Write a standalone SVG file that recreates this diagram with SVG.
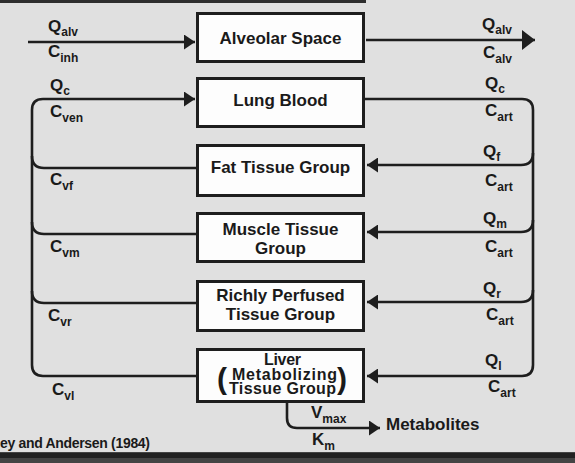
<svg xmlns="http://www.w3.org/2000/svg" width="575" height="463" viewBox="0 0 575 463">
<defs>
<style>
.box{fill:#fdfdfd;stroke:#1e1e1e;stroke-width:3}
.t{font-family:"Liberation Sans",Arial,sans-serif;font-weight:bold;fill:#1a1a1a}
.bt{font-size:17px;text-anchor:middle}
.lb{font-size:17px}
.sub{font-size:12px}
.ln{fill:none;stroke:#1e1e1e;stroke-width:2.6}
</style>
<marker id="ah" markerUnits="userSpaceOnUse" markerWidth="12" markerHeight="15" refX="11" refY="7.5" orient="auto">
<path d="M0,0 L11,7.5 L0,15 z" fill="#1e1e1e"/>
</marker>
<marker id="ahb" markerUnits="userSpaceOnUse" markerWidth="14" markerHeight="20" refX="13" refY="10" orient="auto">
<path d="M0,0 L13,10 L0,20 z" fill="#1e1e1e"/>
</marker>
</defs>
<rect x="0" y="0" width="575" height="463" fill="#e0e0e0"/>
<rect x="0" y="0" width="366" height="3" fill="#2e2e2e"/>
<rect x="0" y="452" width="575" height="11" fill="#444"/>
<rect x="0" y="453" width="575" height="5" fill="#222"/>

<g id="connectors">
<path class="ln" d="M28 42 H195" marker-end="url(#ah)"/>
<path class="ln" d="M366 40 H535" marker-end="url(#ahb)"/>
<path class="ln" d="M197 376 H43 Q32 376 32 365 V110 Q32 99 43 99 H195" marker-end="url(#ah)"/>
<path class="ln" d="M197 168 H44 Q32 168 32 156"/>
<path class="ln" d="M197 234 H44 Q32 234 32 222"/>
<path class="ln" d="M197 303 H44 Q32 303 32 291"/>
<path class="ln" d="M364 99 H522 Q533 99 533 110 V365 Q533 376 522 376 H367" marker-end="url(#ah)"/>
<path class="ln" d="M533 153 Q533 165 521 165 H367" marker-end="url(#ah)"/>
<path class="ln" d="M533 220 Q533 232 521 232 H367" marker-end="url(#ah)"/>
<path class="ln" d="M533 290 Q533 302 521 302 H367" marker-end="url(#ah)"/>
<path class="ln" d="M287 403 V418 Q287 428 297 428 H380" marker-end="url(#ah)"/>
</g>

<g id="alveolar">
<rect class="box" x="197.5" y="13.5" width="166" height="48"/>
<text class="t bt" x="280.5" y="44">Alveolar Space</text>
</g>
<g id="lung">
<rect class="box" x="197.5" y="78.5" width="166" height="48"/>
<text class="t bt" x="280.5" y="106">Lung Blood</text>
</g>
<g id="fat">
<rect class="box" x="197.5" y="145.5" width="166" height="50"/>
<text class="t bt" x="280.5" y="173">Fat Tissue Group</text>
</g>
<g id="muscle">
<rect class="box" x="197.5" y="213.5" width="166" height="48"/>
<text class="t bt" x="280.5" y="235">Muscle Tissue</text>
<text class="t bt" x="280.5" y="254">Group</text>
</g>
<g id="richly">
<rect class="box" x="197.5" y="281.5" width="166" height="49"/>
<text class="t bt" x="280.5" y="301">Richly Perfused</text>
<text class="t bt" x="280.5" y="320">Tissue Group</text>
</g>
<g id="liver">
<rect class="box" x="197.5" y="349.5" width="166" height="52"/>
<text class="t" x="264" y="365" font-size="16" textLength="37">Liver</text>
<text class="t" x="232" y="380" font-size="16" textLength="105">Metabolizing</text>
<text class="t" x="229" y="394" font-size="16" textLength="107">Tissue Group</text>
<text class="t" x="217" y="389" font-size="30">(</text>
<text class="t" x="337" y="389" font-size="30">)</text>
</g>

<g id="labels">
<text class="t lb" x="48" y="32">Q<tspan class="sub" dy="4">alv</tspan></text>
<text class="t lb" x="48" y="57">C<tspan class="sub" dy="5">inh</tspan></text>
<text class="t lb" x="50" y="91">Q<tspan class="sub" dy="4">c</tspan></text>
<text class="t lb" x="50" y="117">C<tspan class="sub" dy="5">ven</tspan></text>
<text class="t lb" x="50" y="185">C<tspan class="sub" dy="5">vf</tspan></text>
<text class="t lb" x="50" y="252">C<tspan class="sub" dy="5">vm</tspan></text>
<text class="t lb" x="48" y="321">C<tspan class="sub" dy="5">vr</tspan></text>
<text class="t lb" x="52" y="395">C<tspan class="sub" dy="5">vl</tspan></text>

<text class="t lb" x="482" y="30">Q<tspan class="sub" dy="4">alv</tspan></text>
<text class="t lb" x="483" y="58">C<tspan class="sub" dy="5">alv</tspan></text>
<text class="t lb" x="485" y="89">Q<tspan class="sub" dy="4">c</tspan></text>
<text class="t lb" x="485" y="116">C<tspan class="sub" dy="5">art</tspan></text>
<text class="t lb" x="483" y="157">Q<tspan class="sub" dy="4">f</tspan></text>
<text class="t lb" x="485" y="186">C<tspan class="sub" dy="5">art</tspan></text>
<text class="t lb" x="483" y="224">Q<tspan class="sub" dy="4">m</tspan></text>
<text class="t lb" x="485" y="252">C<tspan class="sub" dy="5">art</tspan></text>
<text class="t lb" x="483" y="294">Q<tspan class="sub" dy="4">r</tspan></text>
<text class="t lb" x="486" y="320">C<tspan class="sub" dy="5">art</tspan></text>
<text class="t lb" x="485" y="366">Q<tspan class="sub" dy="4">l</tspan></text>
<text class="t lb" x="488" y="392">C<tspan class="sub" dy="5">art</tspan></text>

<text class="t lb" x="311" y="418">V<tspan class="sub" dy="5">max</tspan></text>
<text class="t lb" x="312" y="445">K<tspan class="sub" dy="5">m</tspan></text>
<text class="t lb" x="386" y="430">Metabolites</text>
<text class="t" x="0" y="448" font-size="14" textLength="150">ey and Andersen (1984)</text>
</g>
</svg>
